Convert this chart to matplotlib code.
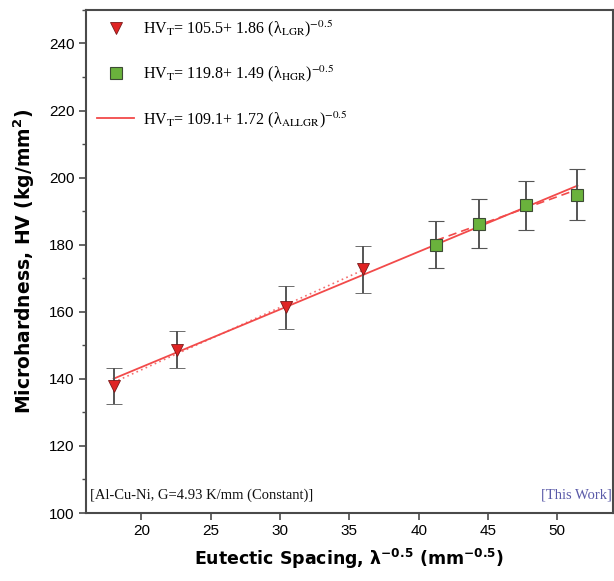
import numpy as np
import matplotlib
matplotlib.use("Agg")
import matplotlib.pyplot as plt
from matplotlib.lines import Line2D
from matplotlib.ticker import MultipleLocator
from matplotlib.font_manager import FontProperties

# measured microhardness vs eutectic spacing
lam_lgr = [18.0, 22.6, 30.45, 36.0]
hv_lgr = [137.8, 148.7, 161.3, 172.7]
err_lgr = [5.4, 5.6, 6.3, 7.0]

lam_hgr = [41.25, 44.33, 47.73, 51.45]
hv_hgr = [180.0, 186.3, 191.7, 194.9]
err_hgr = [7.0, 7.4, 7.3, 7.6]

# linear fits HV = a + b * lambda^-0.5
fit_lgr = (105.5, 1.86)
fit_hgr = (119.8, 1.49)
fit_all = (109.1, 1.72)

labels = [
    r"HV$_\mathrm{T}$= 105.5+ 1.86 (λ$_\mathrm{LGR}$)$^{-0.5}$",
    r"HV$_\mathrm{T}$= 119.8+ 1.49 (λ$_\mathrm{HGR}$)$^{-0.5}$",
    r"HV$_\mathrm{T}$= 109.1+ 1.72 (λ$_\mathrm{ALLGR}$)$^{-0.5}$",
]

SERIF = "Liberation Serif"
LINE_RED = "#f24a4a"
AX_GRAY = "#4a4a4a"

fig = plt.figure(figsize=(6.14, 5.81), dpi=100)
ax = fig.add_axes([0.140, 0.117, 0.858, 0.866])

# fit lines
x_all = np.array([lam_lgr[0], lam_hgr[-1]])
ax.plot(x_all, fit_all[0] + fit_all[1] * x_all, color=LINE_RED, lw=1.3, zorder=2)
x_l = np.array([lam_lgr[0], lam_lgr[-1]])
ax.plot(x_l, fit_lgr[0] + fit_lgr[1] * x_l, color=LINE_RED, lw=1.2,
        ls=(0, (1, 2)), alpha=0.8, zorder=2)
x_h = np.array([lam_hgr[0], lam_hgr[-1]])
ax.plot(x_h, fit_hgr[0] + fit_hgr[1] * x_h, color=LINE_RED, lw=1.2,
        ls=(0, (5, 3)), zorder=2)

# data with error bars
ax.errorbar(lam_lgr, hv_lgr, yerr=err_lgr, fmt="v", ms=9, mfc="#e02424",
            mec="#7a1a1a", mew=0.6, ecolor="#555555", elinewidth=1.4,
            capsize=6, capthick=1.4, zorder=3)
ax.errorbar(lam_hgr, hv_hgr, yerr=err_hgr, fmt="s", ms=9, mfc="#6ab23c",
            mec="#3c4a34", mew=0.8, ecolor="#555555", elinewidth=1.4,
            capsize=6, capthick=1.4, zorder=3)

ax.set_xlim(16, 54)
ax.set_ylim(100, 250)
ax.set_xticks([20, 25, 30, 35, 40, 45, 50])
ax.set_yticks([100, 120, 140, 160, 180, 200, 220, 240])
ax.yaxis.set_minor_locator(MultipleLocator(10))
ax.tick_params(axis="both", which="major", direction="out", length=5,
               width=1.2, color=AX_GRAY, labelsize=11, pad=3)
ax.tick_params(axis="y", which="minor", direction="out", length=3,
               width=1.0, color=AX_GRAY)
for lab in ax.get_xticklabels() + ax.get_yticklabels():
    lab.set_family("Liberation Sans")
for sp in ax.spines.values():
    sp.set_color(AX_GRAY)
    sp.set_linewidth(1.5)

xlab_font = FontProperties(family="DejaVu Sans", weight="bold", size=12.5,
                           math_fontfamily="dejavusans")
ylab_font = FontProperties(family="DejaVu Sans", weight="bold", size=13.5,
                           math_fontfamily="dejavusans")
ax.set_xlabel(r"Eutectic Spacing, λ$^{\mathbf{-0.5}}$ (mm$^{\mathbf{-0.5}}$)",
              fontproperties=xlab_font, labelpad=6)
ax.set_ylabel(r"Microhardness, HV (kg/mm$^{\mathbf{2}}$)",
              fontproperties=ylab_font, labelpad=9)

handles = [
    Line2D([], [], ls="none", marker="v", ms=8, mfc="#e02424", mec="#7a1a1a", mew=0.6),
    Line2D([], [], ls="none", marker="s", ms=8, mfc="#6ab23c", mec="#3c4a34", mew=0.8),
    Line2D([], [], color=LINE_RED, lw=1.3),
]
leg_font = FontProperties(family=SERIF, size=11.5, math_fontfamily="stix")
ax.legend(handles, labels, loc="upper left", frameon=False, prop=leg_font,
          labelspacing=1.55, handlelength=2.3, handletextpad=0.6,
          borderaxespad=0.3, bbox_to_anchor=(0.0, 1.005))

ax.text(0.008, 0.022, "[Al-Cu-Ni, G=4.93 K/mm (Constant)]", transform=ax.transAxes,
        family=SERIF, fontsize=10.5, ha="left", va="bottom", color="#111111")
ax.text(0.999, 0.022, "[This Work]", transform=ax.transAxes, family=SERIF,
        fontsize=10.5, ha="right", va="bottom", color="#5a5aa8")

fig.savefig("out.png", dpi=100)
